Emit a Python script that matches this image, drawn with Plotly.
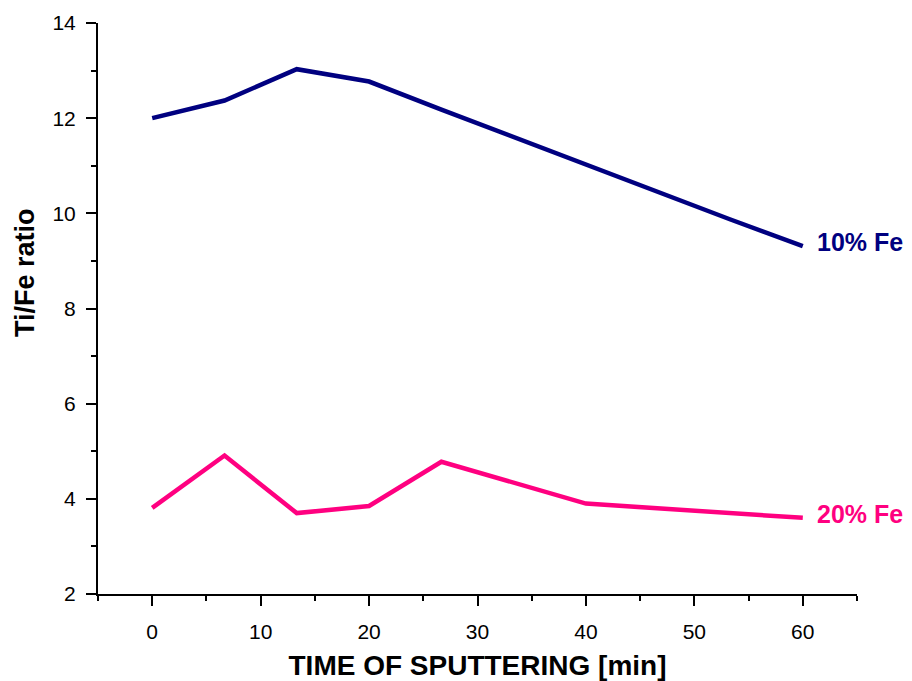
import plotly.graph_objects as go

# Sputtering time [min]
time_10 = [0, 6.67, 13.33, 20, 26.67, 33.33, 40, 46.67, 53.33, 60]
ratio_10 = [12.0, 12.37, 13.03, 12.77, 12.18, 11.6, 11.02, 10.45, 9.87, 9.31]

time_20 = [0, 6.67, 13.33, 20, 26.67, 40, 60]
ratio_20 = [3.81, 4.91, 3.70, 3.85, 4.78, 3.90, 3.60]

series_names = ["10% Fe", "20% Fe"]
series_colors = ["#000080", "#FF0080"]

x_ticks = [0, 10, 20, 30, 40, 50, 60]
y_ticks = [2, 4, 6, 8, 10, 12, 14]

FONT = "Liberation Sans, Arial, sans-serif"

fig = go.Figure()
for xs, ys, name, color in zip([time_10, time_20], [ratio_10, ratio_20],
                               series_names, series_colors):
    fig.add_trace(go.Scatter(x=xs, y=ys, mode="lines", name=name,
                             line=dict(color=color, width=4.5),
                             showlegend=False))
    fig.add_annotation(x=xs[-1], y=ys[-1], xref="x", yref="y",
                       text=f"<b>{name}</b>", showarrow=False,
                       xanchor="left", yanchor="middle", xshift=12, yshift=4,
                       font=dict(family=FONT, size=25, color=color))

# y-axis title, placed a little above the middle of the axis
fig.add_annotation(x=25, y=273, xref="paper", yref="paper",
                   text="<b>Ti/Fe ratio</b>", textangle=-90, showarrow=False,
                   xanchor="center", yanchor="middle",
                   font=dict(family=FONT, size=27, color="black"))

axis_common = dict(
    showline=True, linecolor="black", linewidth=2,
    ticks="outside", ticklen=10, tickwidth=2, tickcolor="black",
    showgrid=False, zeroline=False, automargin=False,
    tickfont=dict(family=FONT, size=21, color="black"),
)

fig.update_xaxes(
    range=[-5, 65], tickvals=x_ticks, ticktext=[str(v) for v in x_ticks],
    minor=dict(ticks="outside", ticklen=5, tickwidth=2, tickcolor="black",
               dtick=5, tick0=0, showgrid=False),
    title=dict(text="<b>TIME OF SPUTTERING [min]</b>",
               font=dict(family=FONT, size=28, color="black"), standoff=16),
    ticklabelstandoff=8,
    **axis_common,
)
fig.update_yaxes(
    range=[2, 14], tickvals=y_ticks, ticktext=[str(v) for v in y_ticks],
    minor=dict(ticks="outside", ticklen=5, tickwidth=2, tickcolor="black",
               dtick=1, tick0=0, showgrid=False),
    ticklabelstandoff=6,
    **axis_common,
)

W, H = 912, 681
ML, MR, MT, MB = 98, 55, 23, 87
fig.update_layout(
    width=W, height=H,
    margin=dict(l=ML, r=MR, t=MT, b=MB),
    plot_bgcolor="white", paper_bgcolor="white",
    font=dict(family=FONT, color="black"),
)

# convert the y-title pixel position to paper fractions
ann = fig.layout.annotations[-1]
ann.x = (ann.x - ML) / (W - ML - MR)
ann.y = ((H - ann.y) - MB) / (H - MT - MB)

fig.write_html("out.html")
